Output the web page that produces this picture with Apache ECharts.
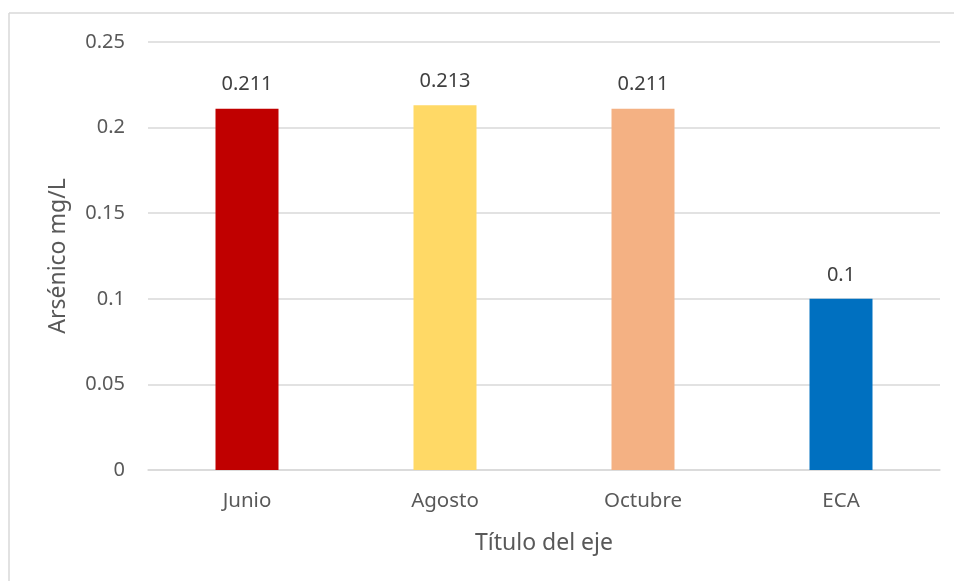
<!DOCTYPE html>
<html>
<head>
<meta charset="utf-8">
<script src="https://cdn.jsdelivr.net/npm/echarts@6/dist/echarts.min.js"></script>
<style>
  html, body { margin: 0; padding: 0; background: #fff; }
  #chart { width: 954px; height: 581px; }
</style>
</head>
<body>
<div id="chart"></div>
<script>
  var categories = ['Junio', 'Agosto', 'Octubre', 'ECA']
  var values = [0.211, 0.213, 0.211, 0.1]
  var barColors = ['#C00000', '#FFD966', '#F4B183', '#0070C0']
  var yTicks = [0, 0.05, 0.1, 0.15, 0.2, 0.25]

  var font = 'Noto Sans, sans-serif'
  var chart = echarts.init(document.getElementById('chart'))

  var option = {
    animation: false,
    backgroundColor: '#fff',
    graphic: [
      // borde del área del gráfico (sólo se ven arriba e izquierda)
      {
        type: 'line',
        shape: { x1: 9, y1: 13, x2: 954, y2: 13 },
        style: { stroke: '#d9d9d9', lineWidth: 1.5 },
        silent: true
      },
      {
        type: 'line',
        shape: { x1: 9, y1: 13, x2: 9, y2: 581 },
        style: { stroke: '#d9d9d9', lineWidth: 1.5 },
        silent: true
      }
    ],
    grid: {
      left: 148,
      right: 14,
      top: 42,
      bottom: 111
    },
    xAxis: {
      type: 'category',
      data: categories,
      name: 'Título del eje',
      nameLocation: 'middle',
      nameGap: 62,
      nameTextStyle: { fontFamily: font, fontSize: 23, color: '#595959' },
      axisLine: { lineStyle: { color: '#d9d9d9', width: 1.5 } },
      axisTick: { show: false },
      axisLabel: { fontFamily: font, fontSize: 20.5, color: '#595959', margin: 21 }
    },
    yAxis: {
      type: 'value',
      min: yTicks[0],
      max: yTicks[yTicks.length - 1],
      interval: 0.05,
      name: 'Arsénico mg/L',
      nameLocation: 'middle',
      nameGap: 78,
      nameTextStyle: { fontFamily: font, fontSize: 23, color: '#595959' },
      axisLine: { show: false },
      axisTick: { show: false },
      axisLabel: {
        fontFamily: font,
        fontSize: 20,
        color: '#595959',
        margin: 23,
        formatter: function (v) { return String(Math.round(v * 100) / 100) }
      },
      splitLine: { lineStyle: { color: '#d9d9d9', width: 1.5 } }
    },
    series: [
      {
        type: 'bar',
        barWidth: 63,
        data: values.map(function (v, i) {
          return { value: v, itemStyle: { color: barColors[i] } }
        }),
        label: {
          show: true,
          position: 'top',
          distance: 14,
          fontFamily: font,
          fontSize: 20,
          color: '#404040'
        }
      }
    ]
  }

  chart.setOption(option)
</script>
</body>
</html>
